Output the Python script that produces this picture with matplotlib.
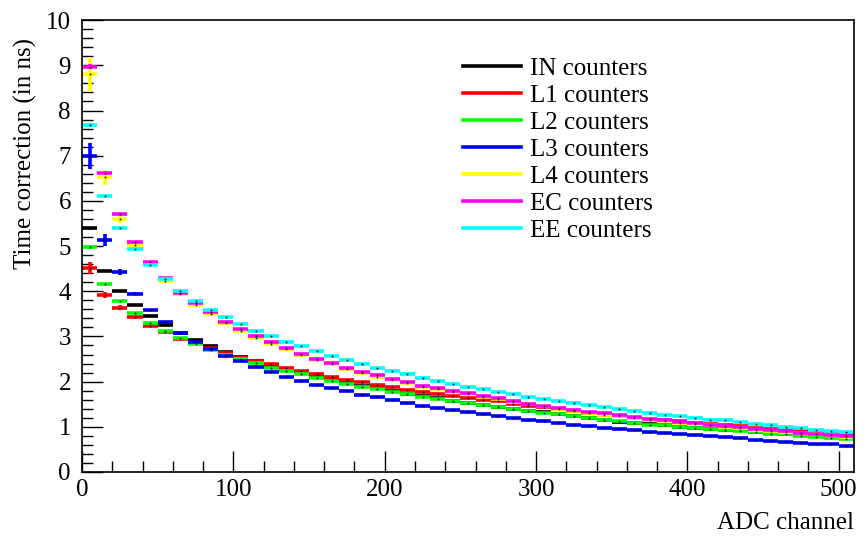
import matplotlib
matplotlib.use("Agg")
import matplotlib.pyplot as plt
from matplotlib.lines import Line2D
from matplotlib.ticker import MultipleLocator
import numpy as np

# ---- data ----
bin_width = 10
n_bins = 51
labels = ["IN counters", "L1 counters", "L2 counters", "L3 counters",
          "L4 counters", "EC counters", "EE counters"]
colors = ["#000000", "#ff0000", "#00ff00", "#0000ff", "#ffff00", "#ff00ff", "#00ffff"]

IN = [5.39, 4.45, 4.01, 3.69, 3.45, 3.25, 3.07, 2.92, 2.78, 2.66,
      2.55, 2.46, 2.34, 2.25, 2.21, 2.13, 2.04, 1.97, 1.91, 1.86,
      1.79, 1.73, 1.69, 1.63, 1.57, 1.53, 1.49, 1.43, 1.39, 1.35,
      1.33, 1.29, 1.24, 1.20, 1.15, 1.11, 1.08, 1.06, 1.04, 1.00,
      0.98, 0.96, 0.93, 0.92, 0.89, 0.86, 0.84, 0.81, 0.79, 0.77, 0.75]
L1 = [4.52, 3.92, 3.64, 3.42, 3.24, 3.09, 2.95, 2.86, 2.74, 2.64,
      2.53, 2.45, 2.38, 2.31, 2.24, 2.17, 2.10, 2.04, 1.99, 1.92,
      1.87, 1.82, 1.77, 1.72, 1.68, 1.64, 1.60, 1.56, 1.51, 1.47,
      1.43, 1.39, 1.35, 1.31, 1.27, 1.24, 1.20, 1.16, 1.14, 1.12,
      1.09, 1.06, 1.03, 1.01, 0.98, 0.95, 0.93, 0.90, 0.87, 0.85, 0.82]
L2 = [4.97, 4.17, 3.78, 3.51, 3.30, 3.12, 2.96, 2.84, 2.70, 2.60,
      2.50, 2.41, 2.30, 2.23, 2.17, 2.08, 2.02, 1.95, 1.89, 1.83,
      1.78, 1.72, 1.67, 1.62, 1.57, 1.52, 1.48, 1.43, 1.39, 1.35,
      1.31, 1.28, 1.24, 1.20, 1.16, 1.12, 1.08, 1.05, 1.03, 1.00,
      0.98, 0.95, 0.92, 0.90, 0.88, 0.85, 0.83, 0.80, 0.78, 0.76, 0.74]
L3 = [7.00, 5.14, 4.42, 3.95, 3.59, 3.31, 3.07, 2.88, 2.73, 2.57,
      2.45, 2.32, 2.21, 2.11, 2.02, 1.93, 1.86, 1.79, 1.71, 1.65,
      1.59, 1.53, 1.47, 1.41, 1.37, 1.33, 1.29, 1.24, 1.20, 1.16,
      1.12, 1.09, 1.05, 1.01, 0.98, 0.95, 0.92, 0.89, 0.87, 0.84,
      0.81, 0.79, 0.77, 0.75, 0.71, 0.69, 0.67, 0.65, 0.63, 0.61, 0.58]
L4 = [8.80, 6.52, 5.60, 5.02, 4.61, 4.23, 3.93, 3.70, 3.49, 3.29,
      3.11, 2.97, 2.84, 2.72, 2.60, 2.48, 2.38, 2.28, 2.20, 2.11,
      2.04, 1.97, 1.89, 1.83, 1.78, 1.72, 1.67, 1.61, 1.55, 1.50,
      1.45, 1.40, 1.35, 1.31, 1.27, 1.23, 1.19, 1.15, 1.12, 1.09,
      1.06, 1.03, 1.00, 0.97, 0.94, 0.91, 0.89, 0.86, 0.84, 0.81, 0.78]
EC = [8.97, 6.62, 5.70, 5.09, 4.64, 4.29, 3.96, 3.74, 3.53, 3.33,
      3.16, 3.02, 2.88, 2.75, 2.62, 2.51, 2.41, 2.31, 2.22, 2.14,
      2.06, 2.00, 1.91, 1.86, 1.80, 1.74, 1.69, 1.63, 1.56, 1.51,
      1.47, 1.42, 1.37, 1.33, 1.30, 1.26, 1.21, 1.18, 1.15, 1.11,
      1.08, 1.05, 1.02, 0.99, 0.96, 0.93, 0.90, 0.87, 0.85, 0.82, 0.79]
EE = [7.69, 6.10, 5.40, 4.93, 4.57, 4.27, 4.01, 3.79, 3.59, 3.43,
      3.27, 3.13, 3.01, 2.88, 2.78, 2.67, 2.56, 2.48, 2.39, 2.31,
      2.23, 2.17, 2.08, 2.01, 1.95, 1.89, 1.83, 1.77, 1.72, 1.67,
      1.62, 1.57, 1.52, 1.48, 1.43, 1.39, 1.35, 1.31, 1.27, 1.23,
      1.19, 1.16, 1.14, 1.11, 1.06, 1.03, 1.00, 0.97, 0.94, 0.91, 0.88]

# errors on the first bins (others are tiny)
err_first = {
    "IN": [0.04, 0.02, 0.015],
    "L1": [0.13, 0.07, 0.05, 0.03],
    "L2": [0.04, 0.02, 0.015],
    "L3": [0.29, 0.13, 0.07, 0.04],
    "L4": [0.39, 0.16, 0.08, 0.05],
    "EC": [0.05, 0.03, 0.02],
    "EE": [0.04, 0.02, 0.015],
}
err_rest = 0.012

series = [("IN", IN), ("L1", L1), ("L2", L2), ("L3", L3),
          ("L4", L4), ("EC", EC), ("EE", EE)]

plt.rcParams['font.family'] = ['Liberation Serif', 'DejaVu Serif']
FS = 18

fig = plt.figure(figsize=(8.66, 5.45), dpi=100)
ax = fig.add_axes([0.0947, 0.134, 0.8913, 0.829])

edges = np.arange(n_bins + 1) * bin_width
centers = edges[:-1] + bin_width / 2

for (key, vals), col in zip(series, colors):
    e = list(err_first[key]) + [err_rest] * (n_bins - len(err_first[key]))
    ax.errorbar(centers, vals, xerr=bin_width / 2, yerr=e, fmt='none',
                ecolor=col, elinewidth=2.6, capsize=0)
    ax.plot(centers, vals, linestyle='none', marker='s', ms=1.2,
            color='#000000', mew=0)

ax.set_xlim(0, 510)
ax.set_ylim(0, 10)
ax.xaxis.set_major_locator(MultipleLocator(100))
ax.xaxis.set_minor_locator(MultipleLocator(20))
ax.yaxis.set_major_locator(MultipleLocator(1))
ax.yaxis.set_minor_locator(MultipleLocator(0.2))
ax.tick_params(which='both', direction='in', top=False, right=False,
               labelsize=FS, width=1.0)
ax.tick_params(which='major', length=15)
ax.tick_params(which='minor', length=8)
ax.tick_params(axis='y', which='major', pad=8)
ax.tick_params(axis='x', which='major', pad=5)
for sp in ax.spines.values():
    sp.set_linewidth(1.2)

ax.set_xlabel("ADC channel", fontsize=FS, loc='right', labelpad=8)
ax.set_ylabel("Time correction (in ns)", fontsize=FS, loc='top')
ax.yaxis.set_label_coords(-0.058, 0.96)

handles = [Line2D([0], [0], color=c, lw=2.6) for c in colors]
leg = ax.legend(handles, labels, loc='upper left',
                bbox_to_anchor=(0.478, 0.945), frameon=False, fontsize=FS,
                handlelength=2.3, handletextpad=0.35, labelspacing=0.18,
                borderpad=0)

fig.savefig("out.png", dpi=100)
